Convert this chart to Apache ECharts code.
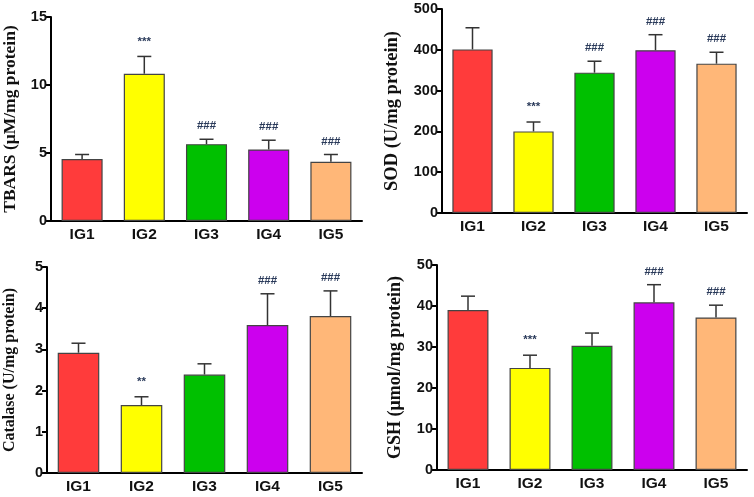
<!DOCTYPE html>
<html>
<head>
<meta charset="utf-8">
<script src="https://cdn.jsdelivr.net/npm/echarts@6/dist/echarts.min.js"></script>
<style>
  html, body { margin: 0; padding: 0; background: #fff; }
  #main { width: 754px; height: 497px; }
</style>
</head>
<body>
<div id="main"></div>
<script>
var groups = ['IG1', 'IG2', 'IG3', 'IG4', 'IG5'];
var barColors = ['#ff3b3b', '#ffff00', '#00c000', '#cc00ee', '#ffb778'];

// TBARS
var tbarsMean = [4.55, 10.83, 5.65, 5.26, 4.35];
var tbarsSd = [0.34, 1.27, 0.36, 0.68, 0.54];
var tbarsSig = ['', '***', '###', '###', '###'];
// SOD
var sodMean = [401, 200, 344, 399, 366];
var sodSd = [53, 23, 28, 38, 28];
var sodSig = ['', '***', '###', '###', '###'];
// Catalase
var catMean = [2.92, 1.65, 2.39, 3.59, 3.81];
var catSd = [0.23, 0.20, 0.26, 0.76, 0.61];
var catSig = ['', '**', '', '###', '###'];
// GSH
var gshMean = [39.0, 24.9, 30.3, 40.9, 37.2];
var gshSd = [3.4, 3.1, 3.1, 4.3, 3.0];
var gshSig = ['', '***', '', '###', '###'];

var panels = [
    {name: 'TBARS (\u03bcM/mg protein)', mean: tbarsMean, sd: tbarsSd, sig: tbarsSig, max: 15, interval: 5,
     gap: 32, nameSize: 17.5, grid: {left: 50, right: 392, top: 17, bottom: 276}},
    {name: 'SOD (U/mg protein)', mean: sodMean, sd: sodSd, sig: sodSig, max: 500, interval: 100,
     gap: 40, nameSize: 18.5, grid: {left: 442, right: 7, top: 9, bottom: 284}},
    {name: 'Catalase (U/mg protein)', mean: catMean, sd: catSd, sig: catSig, max: 5, interval: 1,
     gap: 29, nameSize: 16, grid: {left: 47, right: 392, top: 267, bottom: 24}},
    {name: 'GSH (\u03bcmol/mg protein)', mean: gshMean, sd: gshSd, sig: gshSig, max: 50, interval: 10,
     gap: 33, nameSize: 18, grid: {left: 437, right: 7, top: 265, bottom: 27}}
];

var grids = [], xAxes = [], yAxes = [], series = [];

panels.forEach(function (p, i) {
    grids.push(p.grid);
    xAxes.push({
        type: 'category',
        gridIndex: i,
        data: groups,
        axisLine: {lineStyle: {color: '#000', width: 2}},
        axisTick: {alignWithLabel: true, length: 5, lineStyle: {color: '#000', width: 2}},
        axisLabel: {color: '#111', fontFamily: 'Liberation Sans', fontWeight: 'bold', fontSize: 15.5, margin: 6}
    });
    yAxes.push({
        type: 'value',
        gridIndex: i,
        min: 0,
        max: p.max,
        interval: p.interval,
        name: p.name,
        nameLocation: 'middle',
        nameGap: p.gap,
        nameTextStyle: {fontFamily: 'Liberation Serif', fontWeight: 'bold', fontSize: p.nameSize, color: '#111'},
        splitLine: {show: false},
        axisLine: {show: true, lineStyle: {color: '#000', width: 2}},
        axisTick: {show: true, length: 5, lineStyle: {color: '#000', width: 2}},
        axisLabel: {color: '#111', fontFamily: 'Liberation Sans', fontWeight: 'bold', fontSize: 14.5, margin: 4}
    });

    var barData = [];
    var errData = [];
    for (var k = 0; k < groups.length; k++) {
        barData.push({value: p.mean[k], itemStyle: {color: barColors[k]}});
        errData.push([k, p.mean[k], p.sd[k], p.sig[k]]);
    }

    series.push({
        type: 'bar',
        xAxisIndex: i,
        yAxisIndex: i,
        barWidth: '66%',
        itemStyle: {borderColor: '#444', borderWidth: 1.2},
        data: barData
    });

    // error bars + significance marks
    series.push({
        type: 'custom',
        xAxisIndex: i,
        yAxisIndex: i,
        z: 5,
        data: errData,
        renderItem: function (params, api) {
            var idx = api.value(0);
            var m = api.value(1);
            var s = api.value(2);
            var base = api.coord([idx, m]);
            var top = api.coord([idx, m + s]);
            var cap = 7;
            var children = [
                {type: 'line', shape: {x1: base[0], y1: base[1], x2: top[0], y2: top[1]},
                 style: {stroke: '#333', lineWidth: 1.5}},
                {type: 'line', shape: {x1: top[0] - cap, y1: top[1], x2: top[0] + cap, y2: top[1]},
                 style: {stroke: '#333', lineWidth: 1.5}}
            ];
            var txt = errData[params.dataIndex][3];
            if (txt) {
                children.push({
                    type: 'text',
                    style: {
                        text: txt, x: top[0], y: top[1] - (txt.charAt(0) === '*' ? 15 : 13),
                        align: 'center', verticalAlign: 'middle',
                        fill: '#2a3a5a', fontSize: 11.5, fontWeight: 'bold',
                        fontFamily: 'Liberation Sans'
                    }
                });
            }
            return {type: 'group', children: children};
        }
    });
});

var myChart = echarts.init(document.getElementById('main'));
myChart.setOption({
    animation: false,
    backgroundColor: '#fff',
    grid: grids,
    xAxis: xAxes,
    yAxis: yAxes,
    series: series
});
</script>
</body>
</html>
